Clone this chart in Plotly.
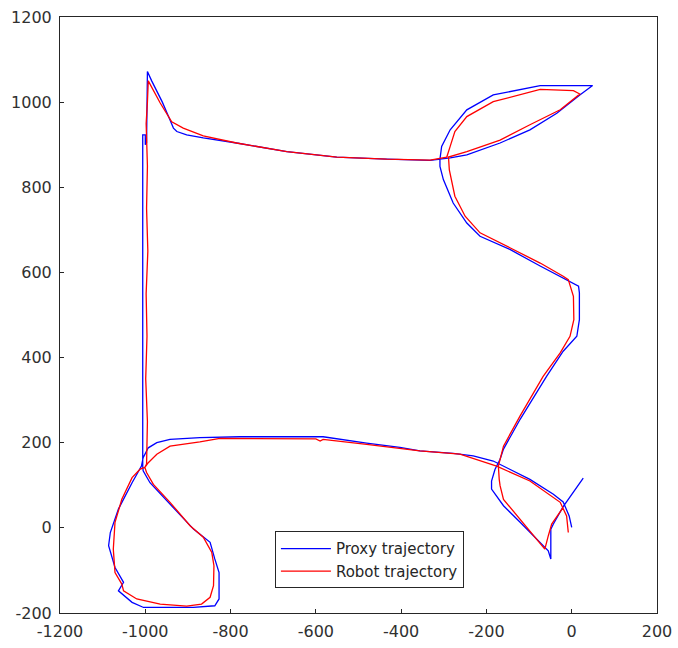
import plotly.graph_objects as go

# Proxy trajectory (blue)
proxy_x = [0, -6, -20, -43, -98, -152, -184, -231, -278, -356, -403, -481, -583, -778, -841, -872,
           -942, -973, -993, -1005, -1009,
           -1031, -1063, -1082, -1086, -1071, -1051, -1063, -1031, -1004, -887, -837, -827, -827,
           -837, -848, -887, -989, -1005, -1006,
           -1006, -1006, -1000, -1000, -997, -995, -985, -960, -942, -934, -926, -903, -864, -786,
           -668, -551, -434, -332, -309,
           -305, -285, -246, -184, -74, 49, 19, -35, -98, -168, -246, -285, -309,
           -309, -301, -278, -246, -215, -145, -74, -12, 16, 18, 18, 12, -20, -59, -121, -160,
           -168, -180, -188, -188, -160, -121, -82, -55, -49, -49, -43, -20, 27]
proxy_y = [1, 28, 61, 79, 114, 142, 157, 169, 175, 181, 189, 199, 214, 214, 213, 212,
           208, 200, 188, 165, 145,
           106, 44, -11, -42, -93, -128, -148, -175, -187, -187, -183, -167, -105,
           -73, -34, -3, 106, 134, 145,
           500, 923, 923, 900, 905, 1072, 1050, 1000, 958, 939, 931, 923, 916, 904,
           884, 871, 866, 863, 866,
           896, 935, 982, 1017, 1039, 1039, 1017, 974, 935, 904, 876, 869, 866,
           849, 818, 763, 716, 685, 654, 615, 583, 568, 552, 489, 450, 415, 356, 255, 185,
           161, 137, 110, 91, 52, 13, -26, -54, -73, -3, 9, 50, 117]

# Robot trajectory (red)
robot_x = [-8, -12, -27, -98, -176, -215, -262, -356, -403, -481, -583, -590, -600, -731, -825, -872,
           -942, -973, -993, -1001, -1012,
           -1031, -1055, -1071, -1075, -1071, -1055, -1051, -1020, -965, -903, -868, -848, -840,
           -839, -844, -864, -895, -942, -981, -997, -1001,
           -997, -995, -999, -996, -998, -994, -997, -995, -998, -995, -993,
           -965, -938, -911, -864, -786, -668, -551, -434, -332, -293,
           -285, -274, -246, -184, -74, 4, 19, -27, -98, -168, -246, -289,
           -287, -274, -250, -215, -145, -74, -20, -8, 4, 5, -4, -27, -67, -121, -160,
           -172, -170, -168, -160, -121, -67, -63, -55, -47, -20]
robot_y = [-11, 28, 60, 110, 145, 157, 173, 181, 187, 196, 208, 204, 209, 210, 210, 202,
           192, 173, 153, 142, 138,
           118, 67, 13, -50, -105, -132, -148, -167, -179, -184, -179, -163, -136,
           -89, -58, -22, 5, 60, 102, 130, 142,
           150, 250, 350, 450, 550, 650, 750, 850, 950, 1000, 1050,
           998, 954, 939, 921, 904, 884, 871, 866, 864, 871,
           896, 931, 966, 1001, 1030, 1027, 1019, 982, 947, 911, 884, 871,
           841, 779, 732, 693, 658, 622, 591, 583, 544, 489, 450, 411, 356, 263, 192,
           145, 114, 99, 67, 20, -46, -50, -19, 9, 48]

tick_vals_x = [-1200, -1000, -800, -600, -400, -200, 0, 200]
tick_text_x = ["-1200", "-1000", "-800", "-600", "-400", "-200", "0", "200"]
tick_vals_y = [-200, 0, 200, 400, 600, 800, 1000, 1200]
tick_text_y = ["-200", "0", "200", "400", "600", "800", "1000", "1200"]

fig = go.Figure()
fig.add_trace(go.Scatter(x=proxy_x, y=proxy_y, mode="lines", name="Proxy trajectory",
                         line=dict(color="#0000ff", width=1.3)))
fig.add_trace(go.Scatter(x=robot_x, y=robot_y, mode="lines", name="Robot trajectory",
                         line=dict(color="#ff0000", width=1.3)))

axis_common = dict(showgrid=False, zeroline=False, showline=True, mirror=True,
                   automargin=False,
                   linecolor="#262626", linewidth=1, ticks="inside", ticklen=4,
                   tickcolor="#262626", tickfont=dict(family="DejaVu Sans", size=16, color="#303030"))

fig.update_layout(
    template="none",
    width=678, height=648,
    margin=dict(l=60, r=21, t=17, b=35),
    paper_bgcolor="white", plot_bgcolor="white",
    font=dict(family="DejaVu Sans", color="#262626"),
    xaxis=dict(range=[-1200, 200], tickvals=tick_vals_x, ticktext=tick_text_x,
               ticklabelstandoff=4, **axis_common),
    yaxis=dict(range=[-200, 1200], tickvals=tick_vals_y, ticktext=tick_text_y,
               ticklabelstandoff=4, **axis_common),
    legend=dict(x=0.36, y=0.137, xanchor="left", yanchor="top",
                bgcolor="white", bordercolor="#262626", borderwidth=1,
                font=dict(family="DejaVu Sans", size=15, color="#262626"),
                itemwidth=50, tracegroupgap=0),
    showlegend=True,
)

fig.write_html("out.html")
